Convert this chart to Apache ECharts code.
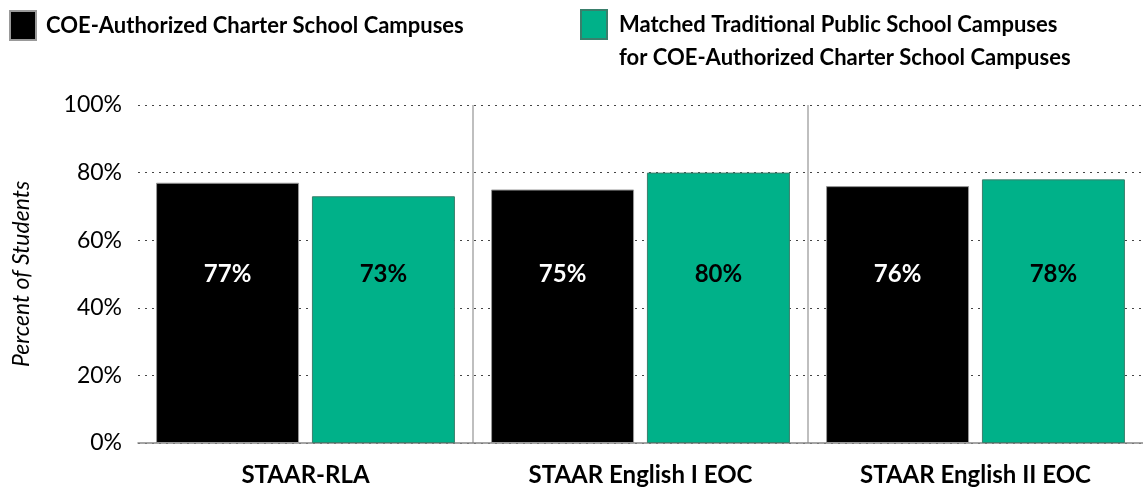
<!DOCTYPE html>
<html><head><meta charset="utf-8">
<script src="https://cdn.jsdelivr.net/npm/echarts@6/dist/echarts.min.js"></script>
<style>html,body{margin:0;padding:0;background:#fff}#c{width:1143px;height:487px}</style>
</head><body><div id="c"></div>
<script>
const categories = ['STAAR-RLA', 'STAAR English I EOC', 'STAAR English II EOC'];
const charterName = 'COE-Authorized Charter School Campuses';
const matchedName = 'Matched Traditional Public School Campuses\nfor COE-Authorized Charter School Campuses';
const charterValues = [77, 75, 76];
const matchedValues = [73, 80, 78];
const yTicks = [0, 20, 40, 60, 80, 100];

const chart = echarts.init(document.getElementById('c'));
const FONT = 'Lato';
chart.setOption({
  animation: false,
  legend: [
    { data: [charterName], left: 4, top: 5, icon: 'rect', itemWidth: 26, itemHeight: 29, itemGap: 10,
      textStyle: { fontFamily: FONT, fontWeight: 'bold', fontSize: 22, color: '#000', padding: [0, 0, 0, 5] } },
    { data: [matchedName], left: 575, top: -30, icon: 'rect', itemWidth: 26, itemHeight: 29,
      formatter: name => '\n' + name,
      textStyle: { fontFamily: FONT, fontWeight: 'bold', fontSize: 22, color: '#000', lineHeight: 33, padding: [0, 0, 0, 7] } }
  ],
  grid: { left: 138, top: 105, width: 1007, height: 338 },
  xAxis: {
    type: 'category', data: categories,
    axisLine: { lineStyle: { color: '#888', width: 1.5 } },
    axisTick: { show: false },
    axisLabel: { fontFamily: FONT, fontWeight: 'bold', fontSize: 24, color: '#000', margin: 20 },
    splitLine: { show: true, showMinLine: false, showMaxLine: false, lineStyle: { color: '#aaa', width: 1.5 } }
  },
  yAxis: {
    type: 'value', min: 0, max: 100, interval: 20,
    name: 'Percent of Students', nameLocation: 'middle', nameGap: 105,
    nameTextStyle: { fontFamily: FONT, fontStyle: 'italic', fontSize: 23, color: '#000' },
    axisLine: { show: false }, axisTick: { show: false },
    axisLabel: { fontFamily: FONT, fontSize: 23, color: '#000', margin: 16,
      formatter: v => yTicks.includes(v) ? v + '%' : '' },
    splitLine: { lineStyle: { color: '#444', type: [2, 5], width: 1.2 } }
  },
  series: [
    { name: charterName, type: 'bar', data: charterValues, barWidth: 143, barGap: '9%',
      itemStyle: { color: '#000', borderColor: '#999', borderWidth: 1 },
      label: { show: true, position: 'insideBottom', distance: 157, formatter: '{c}%',
        fontFamily: FONT, fontWeight: 'bold', fontSize: 24, color: '#fff' } },
    { name: matchedName, type: 'bar', data: matchedValues, barWidth: 143,
      itemStyle: { color: '#00b189', borderColor: '#3a7f6c', borderWidth: 1 },
      label: { show: true, position: 'insideBottom', distance: 157, formatter: '{c}%',
        fontFamily: FONT, fontWeight: 'bold', fontSize: 24, color: '#000' } }
  ]
});
</script></body></html>
